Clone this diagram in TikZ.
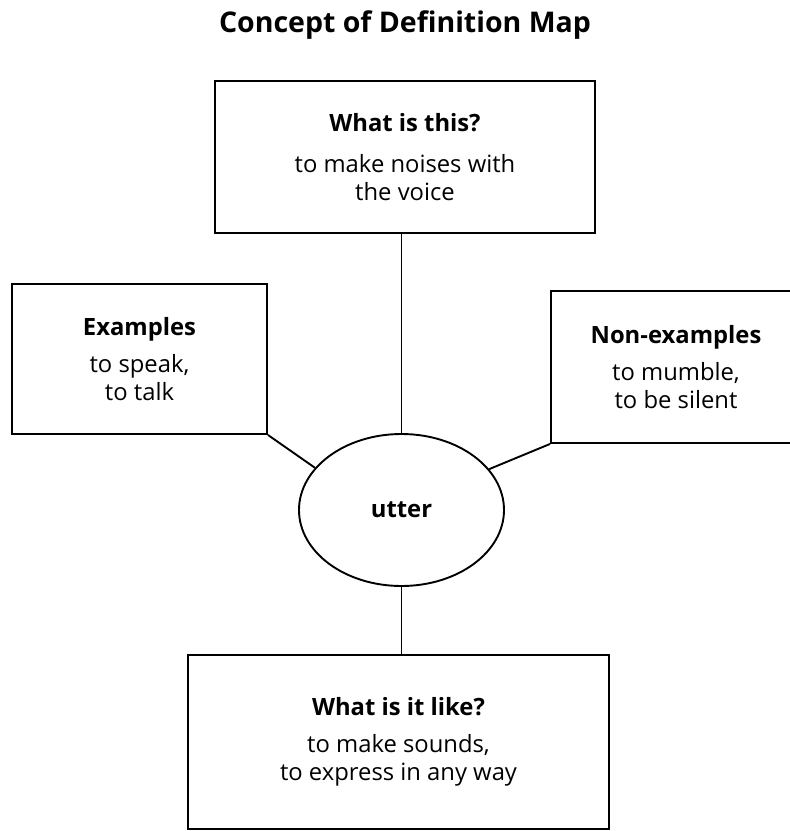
\documentclass[tikz,border=0pt]{standalone}
\usepackage{fontspec}
\setmainfont{Open Sans}
\usetikzlibrary{shapes.geometric}

\begin{document}
\begin{tikzpicture}[
    x=1pt, y=-1pt,
    line width=1.9pt,
    every node/.style={font=\fontsize{23.8}{28}\selectfont, align=center},
    mapbox/.style={rectangle, draw, inner sep=0pt},
    mapword/.style={ellipse, draw, inner sep=0pt, minimum width=205pt, minimum height=152pt}
]
\useasboundingbox (0,0) rectangle (790,831);
\node[font=\fontsize{28.5}{36}\selectfont\bfseries, anchor=base] (title) at (405,32) {Concept of Definition Map};
\node[mapbox, minimum width=380pt, minimum height=152pt] (what) at (405,157)
    {\textbf{What is this?}\\[13pt] to make noises with\\ the voice};
\node[mapbox, minimum width=255pt, minimum height=150pt] (examples) at (139.5,359)
    {\textbf{Examples}\\[9pt] to speak,\\ to talk};
\node[mapbox, minimum width=250pt, minimum height=152pt] (nonexamples) at (676,367)
    {\textbf{Non-examples}\\[9pt] to mumble,\\ to be silent};
\node[mapword] (utter) at (401.5,510) {\textbf{utter}};
\node[mapbox, minimum width=421pt, minimum height=174pt] (like) at (398.5,742)
    {\textbf{What is it like?}\\[9pt] to make sounds,\\ to express in any way};

% connectors
\draw (utter.north) -- (utter.north |- what.south);
\draw (examples.south east) -- (utter.154);
\draw (nonexamples.south west) -- (utter.25);
\draw (utter.south) -- (utter.south |- like.north);
\end{tikzpicture}
\end{document}
